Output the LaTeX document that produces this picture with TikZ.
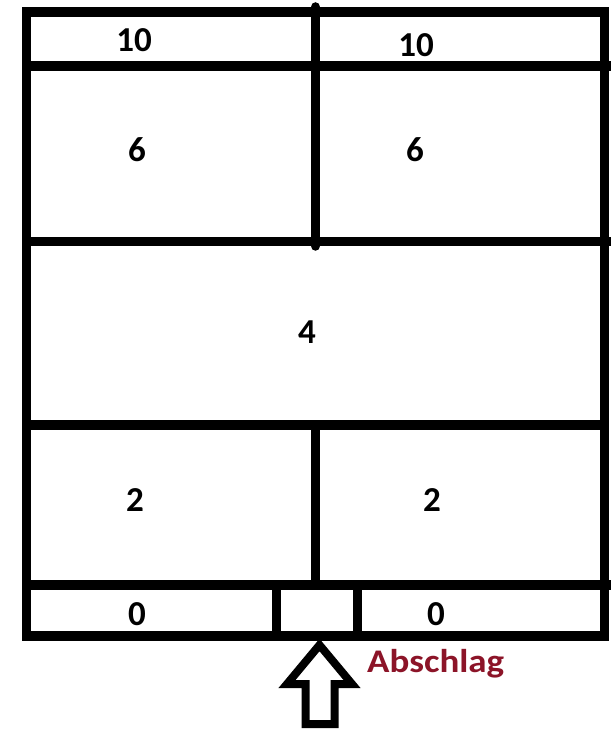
\documentclass[tikz,border=0pt]{standalone}
\usepackage{fontspec}
\setmainfont{Carlito}
\definecolor{abred}{RGB}{140,20,40}
\tikzset{
  wall/.style={line width=9.5pt, black},
  num/.style={font=\fontsize{35}{35}\selectfont\bfseries, inner sep=0pt, anchor=center},
  lbl/.style={font=\fontsize{33}{33}\selectfont\bfseries, text=abred, inner sep=0pt, anchor=west}
}
\begin{document}
\begin{tikzpicture}[x=1pt,y=-1pt]
\useasboundingbox[fill=white] (0,0) rectangle (613,730);
% outer frame
\draw[wall] (26.5,12) rectangle (604.5,636);
% horizontal lines
\draw[wall] (26.5,66) -- (611,66);
\draw[wall] (26.5,241.5) -- (611,241.5);
\draw[wall] (31,425) -- (604.5,425);
\draw[wall] (26.5,585) -- (611,585);
% middle verticals
\draw[wall, line cap=round] (315.5,7) -- (315.5,246);
\draw[wall] (315.5,425) -- (315.5,585);
% tee box
\draw[wall] (276.5,585) -- (276.5,636);
\draw[wall] (357.5,585) -- (357.5,636);
% arrow
\coordinate (tip) at (319.5,645);
\coordinate (wl) at (287,684);
\coordinate (wr) at (352,684);
\coordinate (sl) at (305.5,684);
\coordinate (sr) at (334.5,684);
\coordinate (bl) at (305.5,724);
\coordinate (br) at (334.5,724);
\draw[line width=8pt, line join=miter] (tip) -- (wr) -- (sr) -- (br) -- (bl) -- (sl) -- (wl) -- cycle;
% labels
\node[num] (t1) at (134,40) {10};
\node[num] (t2) at (416,45) {10};
\node[num] (s1) at (137,150) {6};
\node[num] (s2) at (415,150) {6};
\node[num] (f) at (307,332) {4};
\node[num] (w1) at (135,500) {2};
\node[num] (w2) at (432,500) {2};
\node[num] (z1) at (137,614) {0};
\node[num] (z2) at (436,614) {0};
\node[lbl] (ab) at (367,664) {\scalebox{1.12}[1]{Abschlag}};
\end{tikzpicture}
\end{document}
